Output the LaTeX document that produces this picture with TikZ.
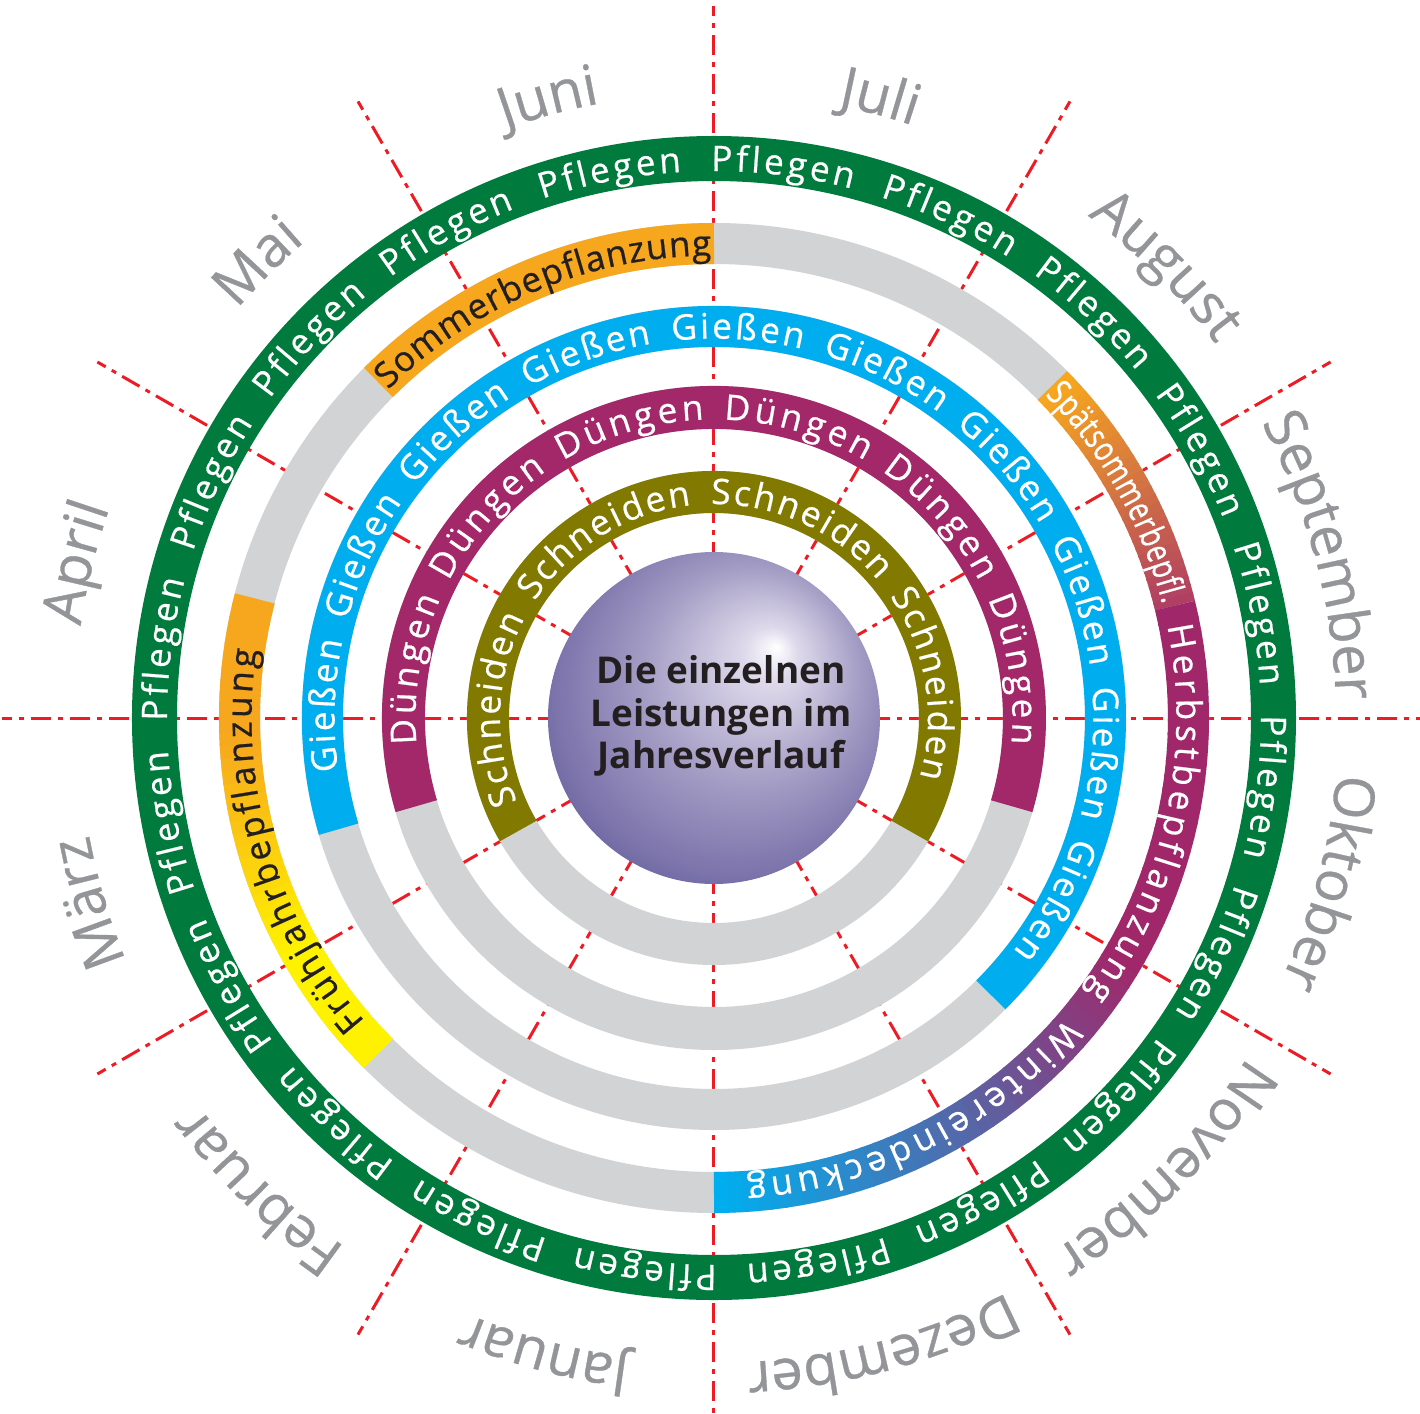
\documentclass[tikz,border=0pt]{standalone}
\usepackage{fontspec}
\setmainfont{Open Sans}
\newfontfamily\ringfamilie[FakeBold=0.6]{Open Sans}
\newfontfamily\strettofont[FakeStretch=0.77,FakeBold=0.6]{Open Sans}
\usepackage{tikz}
\usetikzlibrary{decorations.text}

\definecolor{pflgruen}{HTML}{007A3D}
\definecolor{sommerorange}{HTML}{F7A71E}
\definecolor{ringgrau}{HTML}{D1D3D4}
\definecolor{giessblau}{HTML}{00AEEF}
\definecolor{duengrot}{HTML}{A3286A}
\definecolor{schneidoliv}{HTML}{827A00}
\definecolor{linienrot}{HTML}{ED1C24}
\definecolor{monatgrau}{HTML}{939598}
\definecolor{fruehgelb}{HTML}{FFF200}
\definecolor{spaetrot}{HTML}{B03F64}
\definecolor{herbstlila}{HTML}{A0286A}
\definecolor{textdunkel}{HTML}{231F20}
\definecolor{kugelA}{HTML}{DEDAEB}
\definecolor{kugelB}{HTML}{A39CC4}
\definecolor{kugelC}{HTML}{7C74AB}
\definecolor{kugelD}{HTML}{554E92}
\definecolor{kugelE}{HTML}{3D3981}

\pgfdeclareradialshading{kugel}{\pgfpoint{9.5bp}{10.7bp}}{color(0bp)=(white); color(4bp)=(kugelA); color(16.5bp)=(kugelB); color(27bp)=(kugelC); color(35bp)=(kugelD); color(40bp)=(kugelE)}

\newcommand{\ringschrift}{\ringfamilie\fontsize{10}{12}\selectfont}
\newcommand{\monatschrift}{\ringfamilie\fontsize{16}{19}\selectfont}

\begin{document}
\begin{tikzpicture}[x=0.01cm, y=0.01cm,
	rotlinie/.style={linienrot, line width=0.85pt, dash pattern=on 0.2cm off 0.07cm on 0.05cm off 0.07cm},
	ringtext/.style={decorate, decoration={text along path, text align={fit to path}, text color=white, text={|\ringschrift|#1}}},
	ringtextdunkel/.style={decorate, decoration={text along path, text align={fit to path}, text color=textdunkel, text={|\ringschrift|#1}}},
	spaettext/.style={decorate, decoration={text along path, text align={fit to path}, text color=white, text={|\strettofont\fontsize{10}{12}\selectfont|#1}}},
	monat/.style={decorate, decoration={text along path, text align=center, text color=monatgrau, text={|\monatschrift|#1}}}]

				\useasboundingbox (-714,-696) rectangle (706,718);
				\clip (-714,-696) rectangle (706,718);

				\begin{scope}
					\foreach \w in {0,30,...,330}
						\draw[rotlinie] (0,0) -- (\w:712); % Monatsgrenzen

					\draw[pflgruen, line width=0.45cm] (0,0) circle[radius=559.5]; % Pflegen
					\draw[ringgrau, line width=0.41cm] (0,0) circle[radius=474.5];
					\draw[ringgrau, line width=0.41cm] (0,0) circle[radius=391.5];
					\draw[ringgrau, line width=0.43cm] (0,0) circle[radius=310.5];
					\draw[ringgrau, line width=0.42cm] (0,0) circle[radius=226];

					\draw[sommerorange, line width=0.41cm] (135:474.5) arc[start angle=135, end angle=90, radius=474.5]; % Sommer
					\foreach \i in {0,...,29}{ % Spaetsommer
						\pgfmathsetmacro{\anf}{44.5-\i*1.0267}
						\pgfmathsetmacro{\ende}{max(\anf-1.35,13.7)}
						\pgfmathtruncatemacro{\p}{100*\i/29}
						\draw[spaetrot!\p!sommerorange, line width=0.41cm] (\anf:474.5) arc[start angle=\anf, end angle=\ende, radius=474.5];
					}
					\foreach \i in {0,...,59}{ % Herbst und Winter
						\pgfmathsetmacro{\anf}{13.7-\i*1.7283}
						\pgfmathsetmacro{\ende}{max(\anf-2.0,-90)}
						\pgfmathtruncatemacro{\p}{max(0,min(100,100*(-30-\anf)/58))}
						\draw[giessblau!\p!herbstlila, line width=0.41cm] (\anf:474.5) arc[start angle=\anf, end angle=\ende, radius=474.5];
					}
					\foreach \i in {0,...,39}{ % Fruehjahr
						\pgfmathsetmacro{\anf}{225-\i*1.49}
						\pgfmathsetmacro{\ende}{max(\anf-1.8,165.4)}
						\pgfmathtruncatemacro{\p}{max(0,min(100,100*(210-\anf)/27))}
						\draw[sommerorange!\p!fruehgelb, line width=0.41cm] (\anf:474.5) arc[start angle=\anf, end angle=\ende, radius=474.5];
					}

					\draw[giessblau, line width=0.41cm] (196.5:391.5) arc[start angle=196.5, end angle=-45, radius=391.5]; % Giessen
					\draw[duengrot, line width=0.43cm] (196.5:310.5) arc[start angle=196.5, end angle=-16.5, radius=310.5]; % Duengen
					\draw[schneidoliv, line width=0.42cm] (210:226) arc[start angle=210, end angle=-30, radius=226]; % Schneiden

					\foreach \k in {0,...,19}{
						\pgfmathsetmacro{\anf}{90.3-18*\k}
						\pgfmathsetmacro{\ende}{\anf-14.9}
						\path[ringtext=Pflegen] (\anf:547) arc[start angle=\anf, end angle=\ende, radius=547];
					}
					\foreach \k in {0,...,9}{
						\pgfmathsetmacro{\anf}{188-22.92*\k}
						\pgfmathsetmacro{\ende}{\anf-19.75}
						\path[ringtext=Gießen] (\anf:379.5) arc[start angle=\anf, end angle=\ende, radius=379.5];
					}
					\foreach \k in {0,...,5}{
						\pgfmathsetmacro{\anf}{185-32.3*\k}
						\pgfmathsetmacro{\ende}{\anf-28.5}
						\path[ringtext=Düngen] (\anf:298.5) arc[start angle=\anf, end angle=\ende, radius=298.5];
					}
					\foreach \k in {0,...,3}{
						\pgfmathsetmacro{\anf}{203-56.1*\k}
						\pgfmathsetmacro{\ende}{\anf-50.8}
						\path[ringtext=Schneiden] (\anf:214) arc[start angle=\anf, end angle=\ende, radius=214];
					}

					\path[ringtextdunkel=Sommerbepflanzung] (134.8:462.5) arc[start angle=134.8, end angle=90.3, radius=462.5];
					\path[spaettext=Spätsommerbepfl.] (44.3:462.5) arc[start angle=44.3, end angle=14.2, radius=462.5];
					\path[ringtext=Herbstbepflanzung] (11.5:462.5) arc[start angle=11.5, end angle=-36.5, radius=462.5];
					\path[ringtext=Wintereindeckung] (-40.5:462.5) arc[start angle=-40.5, end angle=-86, radius=462.5];
					\path[ringtextdunkel=Frühjahrbepflanzung] (221:462.5) arc[start angle=221, end angle=171.5, radius=462.5];

					\shade[shading=kugel] (0,0) circle[radius=166];
					\node[font=\bfseries\fontsize{10.5}{12}\selectfont, text=textdunkel, align=center] (titel) at (7,2) {Die einzelnen\\Leistungen im\\Jahresverlauf};

					\path[monat=Juli] (97:625) arc[start angle=97, end angle=53, radius=625];
					\path[monat=August] (67:626) arc[start angle=67, end angle=23, radius=626];
					\path[monat=September] (37:622) arc[start angle=37, end angle=-7, radius=622];
					\path[monat=Oktober] (7:625) arc[start angle=7, end angle=-37, radius=625];
					\path[monat=November] (-23:632) arc[start angle=-23, end angle=-67, radius=632];
					\path[monat=Dezember] (-53:645) arc[start angle=-53, end angle=-97, radius=645];
					\path[monat=Januar] (-83:645) arc[start angle=-83, end angle=-127, radius=645];
					\path[monat=Februar] (-112:645) arc[start angle=-112, end angle=-156, radius=645];
					\path[monat=März] (-141.5:636) arc[start angle=-141.5, end angle=-185.5, radius=636];
					\path[monat=April] (188.3:640) arc[start angle=188.3, end angle=144.3, radius=640];
					\path[monat=Mai] (157:628) arc[start angle=157, end angle=113, radius=628];
					\path[monat=Juni] (127:625) arc[start angle=127, end angle=83, radius=625];
				\end{scope}
			\end{tikzpicture}
\end{document}
